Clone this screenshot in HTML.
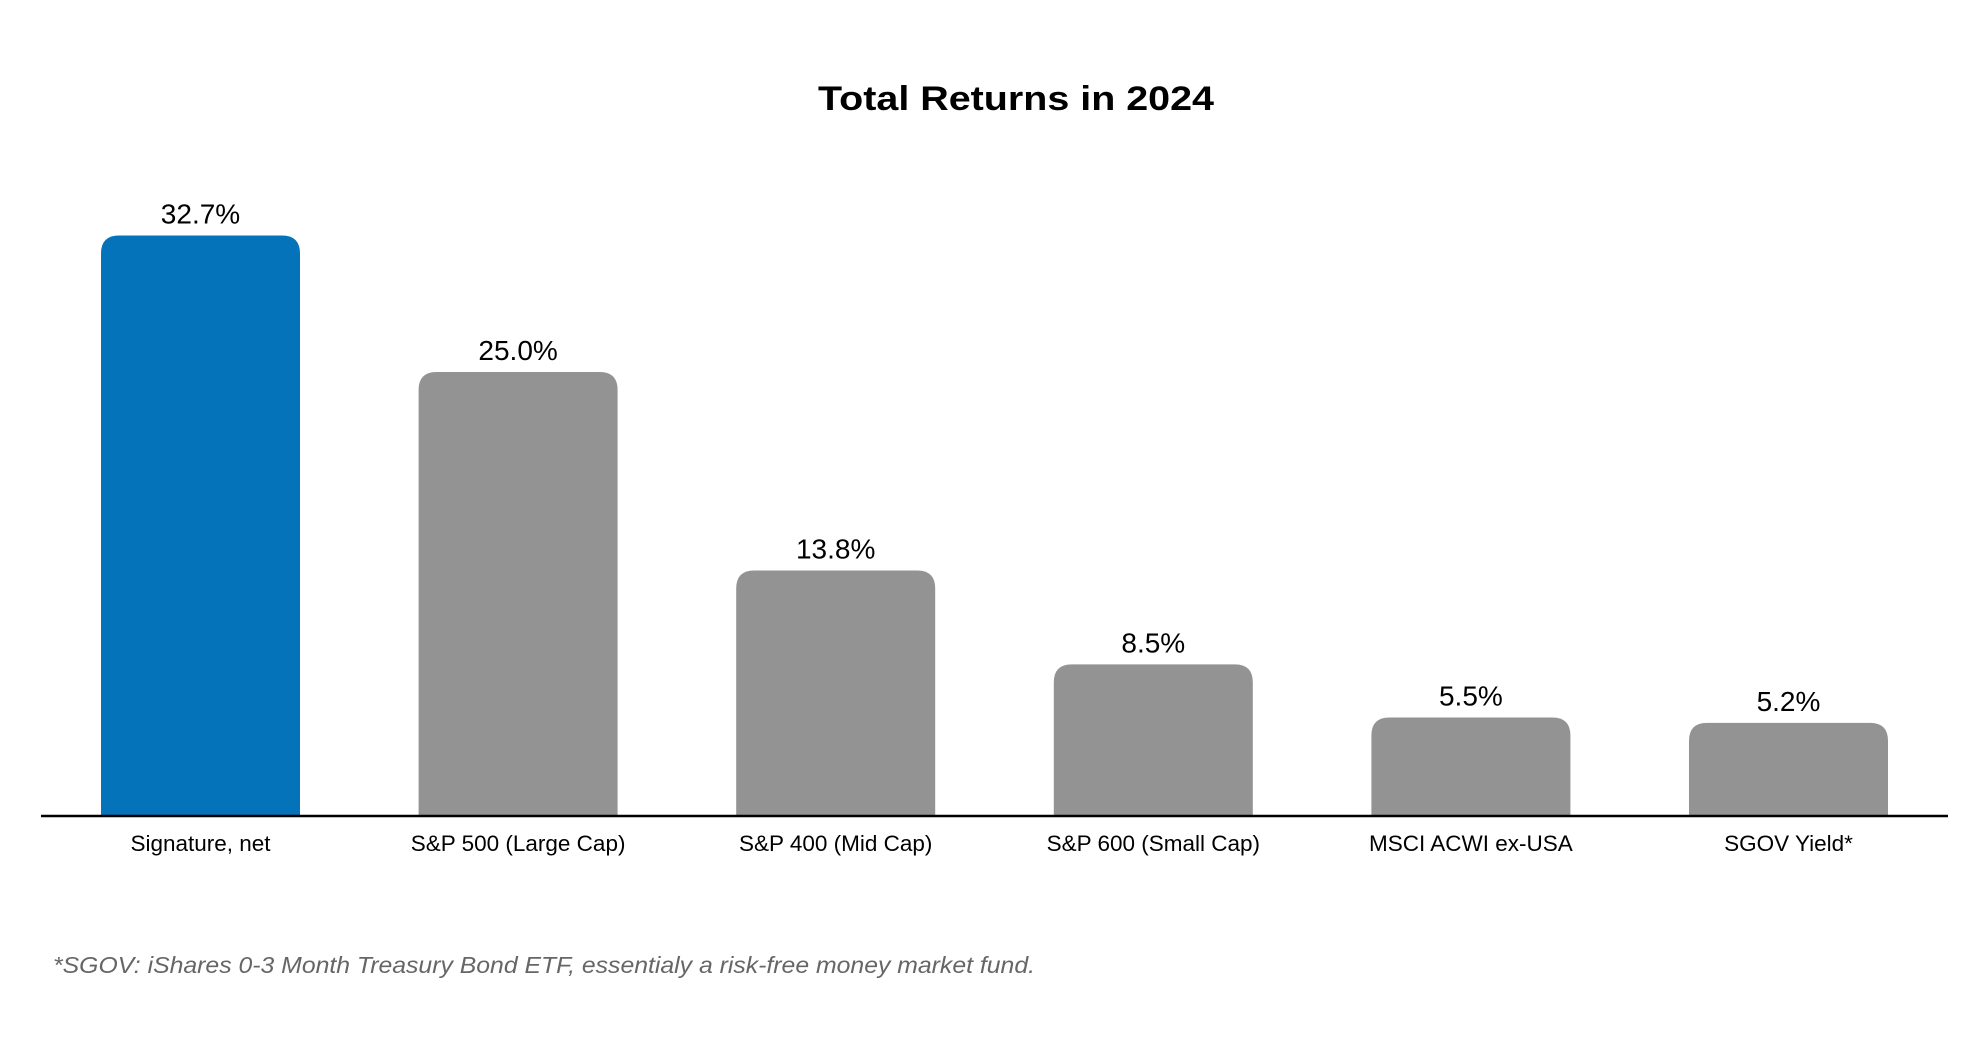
<!DOCTYPE html>
<html><head><meta charset="utf-8"><style>
html,body{margin:0;padding:0;background:#fff;}
svg{display:block;font-family:"Liberation Sans",sans-serif;}
</style></head><body>
<svg id="chart" width="1986" height="1042" viewBox="0 0 1986 1042" xmlns="http://www.w3.org/2000/svg">
<rect width="1986" height="1042" fill="#fff"/>
<text x="1016" y="110" text-anchor="middle" font-size="34" font-weight="bold" fill="#000" textLength="396" lengthAdjust="spacingAndGlyphs">Total Returns in 2024</text>
<g id="bars"></g>
<line x1="41" y1="816" x2="1948" y2="816" stroke="#000" stroke-width="2.5"/>
<text x="53" y="973" font-size="23" font-style="italic" fill="#666" textLength="982" lengthAdjust="spacingAndGlyphs">*SGOV: iShares 0-3 Month Treasury Bond ETF, essentialy a risk-free money market fund.</text>
</svg>
<script>
const categories = ["Signature, net","S&P 500 (Large Cap)","S&P 400 (Mid Cap)","S&P 600 (Small Cap)","MSCI ACWI ex-USA","SGOV Yield*"];
const values = [32.7, 25.0, 13.8, 8.5, 5.5, 5.2];
const valueLabels = ["32.7%","25.0%","13.8%","8.5%","5.5%","5.2%"];
const barColors = ["#0573b9","#939393","#939393","#939393","#939393","#939393"];

const NS = "http://www.w3.org/2000/svg";
const baseY = 815, pxPerUnit = 17.72;
const firstCenter = 200.5, step = 317.6, barW = 199, r = 18;
function xCenter(i){ return firstCenter + i*step; }
function yScale(v){ return baseY - v*pxPerUnit; }
const g = document.getElementById("bars");
categories.forEach((c,i)=>{
  const x0 = xCenter(i)-barW/2, x1 = xCenter(i)+barW/2, yt = yScale(values[i]);
  const p = document.createElementNS(NS,"path");
  p.setAttribute("d",`M${x0},${baseY} L${x0},${yt+r} Q${x0},${yt} ${x0+r},${yt} L${x1-r},${yt} Q${x1},${yt} ${x1},${yt+r} L${x1},${baseY} Z`);
  p.setAttribute("fill",barColors[i]);
  
  
  g.appendChild(p);
  const t = document.createElementNS(NS,"text");
  t.setAttribute("x",xCenter(i)); t.setAttribute("y",yt-12);
  t.setAttribute("text-anchor","middle"); t.setAttribute("font-size","28"); t.setAttribute("fill","#000");
  t.textContent = valueLabels[i];
  
  
  g.appendChild(t);
  const l = document.createElementNS(NS,"text");
  l.setAttribute("x",xCenter(i)); l.setAttribute("y",851);
  l.setAttribute("text-anchor","middle"); l.setAttribute("font-size","22.5"); l.setAttribute("fill","#000");
  l.textContent = c;
  
  
  g.appendChild(l);
});
</script>
</body></html>
